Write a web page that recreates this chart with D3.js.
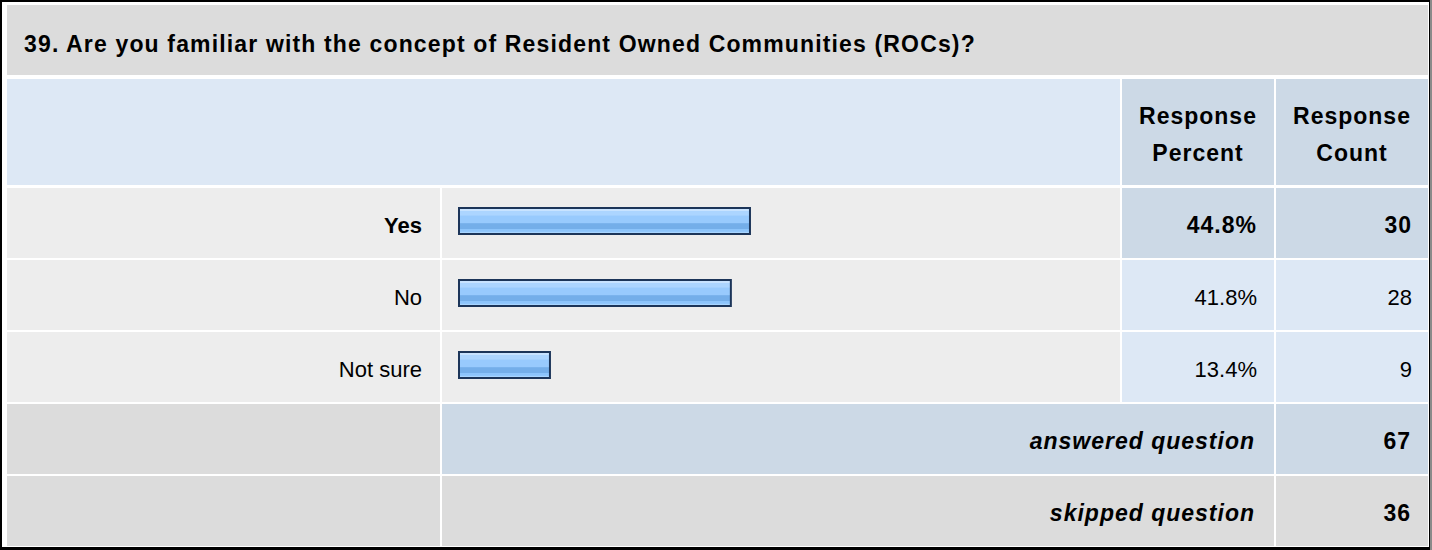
<!DOCTYPE html>
<html>
<head>
<meta charset="utf-8">
<script src="https://cdn.jsdelivr.net/npm/d3@7"></script>
<style>
  body { margin: 0; background: #fff; }
  text { font-family: "Liberation Sans", Arial, sans-serif; fill: #000; }
  .b { font-weight: bold; font-size: 23px; letter-spacing: 1px; }
  .r { font-size: 22px; }
  .i { font-style: italic; font-weight: bold; font-size: 23px; letter-spacing: 1px; }
</style>
</head>
<body>
<div id="chart"></div>
<script>
// survey question data
var title = '39. Are you familiar with the concept of Resident Owned Communities (ROCs)?';
var answers = ['Yes', 'No', 'Not sure'];
var percents = [44.8, 41.8, 13.4];
var counts = [30, 28, 9];
var headPercent = ['Response', 'Percent'];
var headCount = ['Response', 'Count'];
var answeredCount = 67;
var skippedCount = 36;

var W = 1432, H = 550;

var cols = {
  label: [7, 440],
  bar: [442, 1120],
  pct: [1122, 1274],
  cnt: [1276, 1428]
};

var colors = {
  title: '#dcdcdc',
  head: '#dde8f5',
  headDark: '#ccd9e6',
  cell: '#ededed',
  grey: '#dcdcdc'
};

var svg = d3.select('#chart').append('svg')
  .attr('width', W)
  .attr('height', H);

var defs = svg.append('defs');
var grad = defs.append('linearGradient')
  .attr('id', 'barFill')
  .attr('x1', 0).attr('y1', 0).attr('x2', 0).attr('y2', 1);
[
  [0, '#c8e3ff'], [0.1, '#c8e3ff'], [0.12, '#acd5ff'], [0.28, '#acd5ff'],
  [0.3, '#98cafd'], [0.58, '#98cafd'], [0.6, '#74aee9'], [0.8, '#74aee9'],
  [0.82, '#8cc4fb'], [0.9, '#8cc4fb'], [0.92, '#a8d5ff'], [1, '#a8d5ff']
].forEach(function(s) {
  grad.append('stop').attr('offset', s[0]).attr('stop-color', s[1]);
});

// rows under the header
var rowKeys = answers.concat(['answered', 'skipped']);
var y = d3.scaleBand().domain(rowKeys).range([188, 546]).paddingInner(2 / 72);
// bar images have a small end cap, so 0% is not zero width
var x = d3.scaleLinear().domain([0, 100]).range([7.6, 644.6]);
var bh = y.bandwidth();

var cell = function(x0, x1, y0, h, fill) {
  svg.append('rect')
    .attr('x', x0).attr('y', y0)
    .attr('width', x1 - x0).attr('height', h)
    .attr('fill', fill);
};

// title row
cell(7, 1428, 5, 70, colors.title);
svg.append('text').attr('class', 'b')
  .style('letter-spacing', '1.15px')
  .attr('x', 24).attr('y', 52)
  .text(title);

// header row
cell(cols.label[0], cols.bar[1], 79, 106, colors.head);
cell(cols.pct[0], cols.pct[1], 79, 106, colors.headDark);
cell(cols.cnt[0], cols.cnt[1], 79, 106, colors.headDark);
[[cols.pct, headPercent], [cols.cnt, headCount]].forEach(function(h) {
  var t = svg.append('text').attr('class', 'b')
    .attr('text-anchor', 'middle');
  h[1].forEach(function(line, i) {
    t.append('tspan')
      .attr('x', (h[0][0] + h[0][1]) / 2)
      .attr('y', 124 + i * 37)
      .text(line);
  });
});

// answer rows
var maxPct = d3.max(percents);
var isTop = function(d) { return d.pct === maxPct; };

var rows = svg.selectAll('g.row')
  .data(answers.map(function(a, i) { return { name: a, pct: percents[i], cnt: counts[i] }; }))
  .enter().append('g')
  .attr('class', 'row')
  .attr('transform', function(d) { return 'translate(0,' + y(d.name) + ')'; });

rows.append('rect').attr('x', cols.label[0]).attr('width', cols.label[1] - cols.label[0])
  .attr('height', bh).attr('fill', colors.cell);
rows.append('rect').attr('x', cols.bar[0]).attr('width', cols.bar[1] - cols.bar[0])
  .attr('height', bh).attr('fill', colors.cell);
rows.append('rect').attr('x', cols.pct[0]).attr('width', cols.pct[1] - cols.pct[0])
  .attr('height', bh).attr('fill', function(d) { return isTop(d) ? colors.headDark : colors.head; });
rows.append('rect').attr('x', cols.cnt[0]).attr('width', cols.cnt[1] - cols.cnt[0])
  .attr('height', bh).attr('fill', function(d) { return isTop(d) ? colors.headDark : colors.head; });

rows.append('rect')
  .attr('x', 459)
  .attr('y', 20)
  .attr('width', function(d) { return x(d.pct) - 2; })
  .attr('height', 26)
  .attr('fill', 'url(#barFill)')
  .attr('stroke', '#1c3559')
  .attr('stroke-width', 2);

rows.append('text')
  .attr('class', function(d) { return isTop(d) ? 'b' : 'r'; })
  .style('letter-spacing', '0px')
  .style('font-size', '22px')
  .attr('x', 422).attr('y', 45)
  .attr('text-anchor', 'end')
  .text(function(d) { return d.name; });

rows.append('text')
  .attr('class', function(d) { return isTop(d) ? 'b' : 'r'; })
  .attr('x', 1257).attr('y', 45)
  .attr('text-anchor', 'end')
  .text(function(d) { return d.pct.toFixed(1) + '%'; });

rows.append('text')
  .attr('class', function(d) { return isTop(d) ? 'b' : 'r'; })
  .attr('x', 1412).attr('y', 45)
  .attr('text-anchor', 'end')
  .text(function(d) { return d.cnt; });

// answered / skipped rows
cell(cols.label[0], cols.label[1], y('answered'), bh, colors.grey);
cell(cols.bar[0], cols.pct[1], y('answered'), bh, colors.headDark);
cell(cols.cnt[0], cols.cnt[1], y('answered'), bh, colors.headDark);
cell(cols.label[0], cols.label[1], y('skipped'), bh, colors.grey);
cell(cols.bar[0], cols.pct[1], y('skipped'), bh, colors.grey);
cell(cols.cnt[0], cols.cnt[1], y('skipped'), bh, colors.grey);

[['answered', 'answered question', answeredCount], ['skipped', 'skipped question', skippedCount]].forEach(function(r) {
  svg.append('text').attr('class', 'i')
    .attr('x', 1255).attr('y', y(r[0]) + 45)
    .attr('text-anchor', 'end')
    .text(r[1]);
  svg.append('text').attr('class', 'b')
    .attr('x', 1411).attr('y', y(r[0]) + 45)
    .attr('text-anchor', 'end')
    .text(r[2]);
});

// outer frame
svg.append('rect')
  .attr('x', 1).attr('y', 1)
  .attr('width', 1429).attr('height', 547)
  .attr('fill', 'none')
  .attr('stroke', '#000')
  .attr('stroke-width', 2);
svg.append('line')
  .attr('x1', 0).attr('x2', 1432).attr('y1', 548.5).attr('y2', 548.5)
  .attr('stroke', '#000').attr('stroke-width', 3);
svg.append('line')
  .attr('x1', 1431).attr('x2', 1431).attr('y1', 0).attr('y2', 550)
  .attr('stroke', '#8a8a8a').attr('stroke-width', 2);
</script>
</body>
</html>
